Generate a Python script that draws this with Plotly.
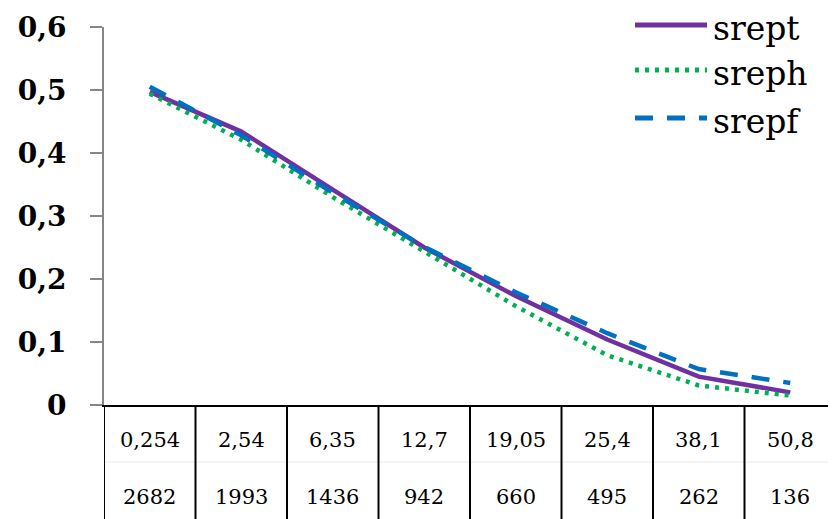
import plotly.graph_objects as go

diam_labels = ["0,254", "2,54", "6,35", "12,7", "19,05", "25,4", "38,1", "50,8"]
count_labels = ["2682", "1993", "1436", "942", "660", "495", "262", "136"]

series_names = ["srept", "sreph", "srepf"]
srept = [0.497, 0.434, 0.342, 0.250, 0.173, 0.104, 0.045, 0.020]
sreph = [0.494, 0.421, 0.330, 0.244, 0.157, 0.079, 0.031, 0.015]
srepf = [0.505, 0.428, 0.337, 0.251, 0.179, 0.114, 0.057, 0.035]

y_tickvals = [0, 0.1, 0.2, 0.3, 0.4, 0.5, 0.6]
y_ticktext = ["0", "0,1", "0,2", "0,3", "0,4", "0,5", "0,6"]

colors = ["#7030A0", "#00B050", "#0070C0"]
dashes = ["solid", "4px,6px", "18px,14px"]

xs = list(range(len(diam_labels)))
FONT = "DejaVu Serif"

fig = go.Figure()
for name, vals, col, dsh in zip(series_names, [srept, sreph, srepf], colors, dashes):
    fig.add_trace(go.Scatter(x=xs, y=vals, name=name, mode="lines", showlegend=False,
                             line=dict(color=col, width=4.5, dash=dsh)))

shapes = []
for i in range(len(xs) + 1):
    shapes.append(dict(type="line", xref="x", yref="paper",
                       x0=i - 0.5, x1=i - 0.5, y0=0, y1=-0.32,
                       line=dict(color="black", width=2)))
shapes.append(dict(type="line", xref="paper", yref="paper",
                   x0=0, x1=1, y0=-0.151, y1=-0.151,
                   line=dict(color="#e8e8e8", width=1), layer="below"))

annotations = []
for i, (d, c) in enumerate(zip(diam_labels, count_labels)):
    annotations.append(dict(x=i, y=-0.092, xref="x", yref="paper", text=d,
                            showarrow=False, font=dict(family=FONT, size=21, color="black"),
                            xanchor="center", yanchor="middle"))
    annotations.append(dict(x=i, y=-0.243, xref="x", yref="paper", text=c,
                            showarrow=False, font=dict(family=FONT, size=21, color="black"),
                            xanchor="center", yanchor="middle"))

# legend drawn manually (top-right, overlapping plot area)
leg_y = [1.0053, 0.8862, 0.7593]
for name, col, dsh, ly in zip(series_names, colors, dashes, leg_y):
    shapes.append(dict(type="line", xref="paper", yref="paper",
                       x0=0.7254, x1=0.8238, y0=ly, y1=ly,
                       line=dict(color=col, width=5, dash=dsh)))
    annotations.append(dict(x=0.829, y=ly - 0.008, xref="paper", yref="paper", text=name,
                            showarrow=False, font=dict(family=FONT, size=33, color="black"),
                            xanchor="left", yanchor="middle"))

# page body has an 8px margin; size/margins compensate so plot area sits at x 104..836, y 27..405
fig.update_layout(
    width=828, height=511,
    margin=dict(l=96, r=0, t=19, b=114, autoexpand=False),
    paper_bgcolor="white", plot_bgcolor="white",
    showlegend=False,
    xaxis=dict(range=[-0.5, len(xs) - 0.5], showticklabels=False, ticks="",
               showgrid=False, zeroline=False, showline=True, automargin=False,
               linecolor="black", linewidth=2),
    yaxis=dict(range=[0, 0.6], tickvals=y_tickvals, ticktext=y_ticktext,
               ticks="outside", ticklen=12, tickwidth=2, tickcolor="#868686",
               showgrid=False, zeroline=False, showline=True, automargin=False,
               linecolor="#868686", linewidth=2, ticklabelstandoff=18,
               tickfont=dict(family=FONT, size=28, color="black", weight="bold")),
    shapes=shapes,
    annotations=annotations,
)

fig.write_html("out.html")
